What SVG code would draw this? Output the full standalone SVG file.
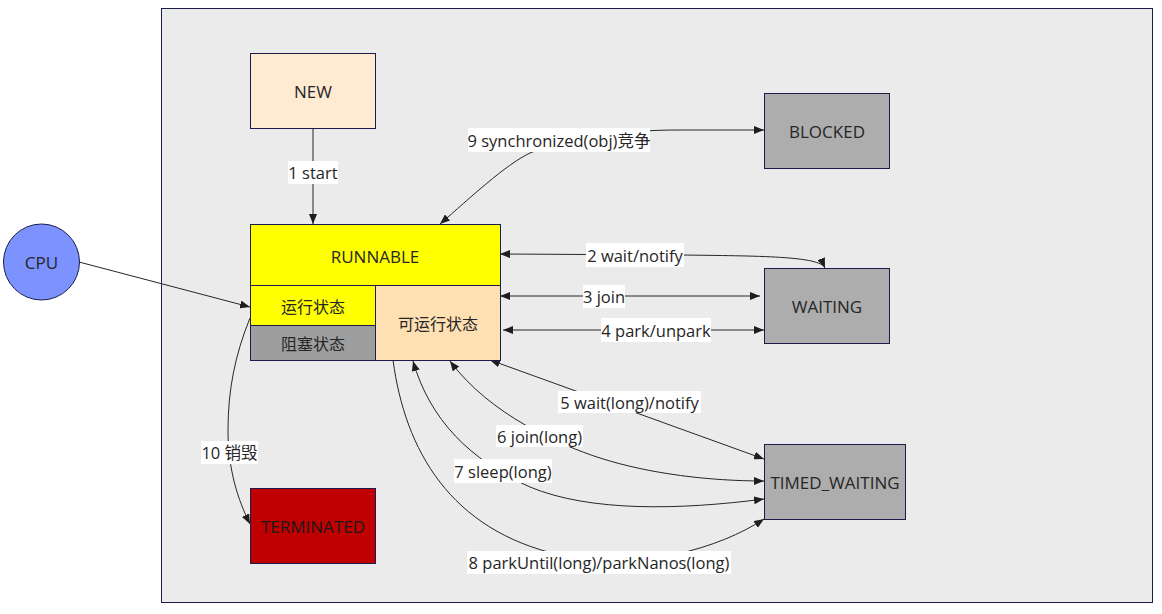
<svg xmlns="http://www.w3.org/2000/svg" width="1162" height="614" viewBox="0 0 1162 614">
<defs>
<marker id="arr" viewBox="0 0 10 8" refX="10" refY="4" markerWidth="10" markerHeight="8" markerUnits="userSpaceOnUse" orient="auto-start-reverse">
<path d="M0,0 L10,4 L0,8 z" fill="#1e1e1e"/>
</marker>
<style>
.node{stroke:#1a1d4a;stroke-width:1}
.t{font-family:"Open Sans","Noto Sans CJK SC",sans-serif;font-size:16.5px;fill:#262626;text-anchor:middle;dominant-baseline:central}
.n{font-size:17px}
.c{font-size:16px}
.e{fill:none;stroke:#262626;stroke-width:1}
.lb{fill:#ffffff}
</style>
</defs>
<rect x="0" y="0" width="1162" height="614" fill="#ffffff"/>
<g id="container">
<rect x="161.5" y="8.5" width="991" height="594" fill="#ebebeb" class="node"/>
</g>
<g id="connectors">
<path class="e" d="M313,128 L313,224" marker-end="url(#arr)"/>
<path class="e" d="M79,262 L250,307" marker-end="url(#arr)"/>
<path class="e" d="M250,318 C235,355 228,390 228,430 C228,470 238,500 250,524" marker-end="url(#arr)"/>
<path class="e" d="M440,224 C470,198 505,165 530,153 C565,138 620,130 680,130 L764,130" marker-start="url(#arr)" marker-end="url(#arr)"/>
<path class="e" d="M500,254 L680,255 C760,256 820,256 825,268" marker-start="url(#arr)" marker-end="url(#arr)"/>
<path class="e" d="M500,296 L760,296" marker-start="url(#arr)" marker-end="url(#arr)"/>
<path class="e" d="M503,330 L764,330" marker-start="url(#arr)" marker-end="url(#arr)"/>
<path class="e" d="M490,360 L764,459" marker-start="url(#arr)" marker-end="url(#arr)"/>
<path class="e" d="M450,361 C490,415 560,445 600,458 C650,474 710,481 764,481" marker-start="url(#arr)" marker-end="url(#arr)"/>
<path class="e" d="M413,361 C430,420 470,460 530,487 C590,512 680,510 764,499" marker-start="url(#arr)" marker-end="url(#arr)"/>
<path class="e" d="M393,360 C405,450 450,530 560,555 C640,572 720,548 764,519" marker-end="url(#arr)"/>
<g id="labels">
<rect class="lb" x="288" y="161" width="50" height="23"/>
<text class="t" x="313" y="172.5">1 start</text>
<rect class="lb" x="468" y="128" width="182" height="24"/>
<text class="t" x="559" y="140">9 synchronized(obj)竞争</text>
<rect class="lb" x="586" y="243" width="98" height="24"/>
<text class="t" x="635" y="255">2 wait/notify</text>
<rect class="lb" x="583" y="285" width="42" height="23"/>
<text class="t" x="604" y="296.5">3 join</text>
<rect class="lb" x="601" y="318" width="110" height="24"/>
<text class="t" x="656" y="330">4 park/unpark</text>
<rect class="lb" x="558" y="391" width="143" height="22"/>
<text class="t" x="629.5" y="402">5 wait(long)/notify</text>
<rect class="lb" x="496" y="425" width="87" height="22"/>
<text class="t" x="539.5" y="436">6 join(long)</text>
<rect class="lb" x="454" y="459" width="98" height="24"/>
<text class="t" x="503" y="471">7 sleep(long)</text>
<rect class="lb" x="467" y="551" width="264" height="23"/>
<text class="t" x="599" y="562.5">8 parkUntil(long)/parkNanos(long)</text>
<rect class="lb" x="201" y="441" width="57" height="23"/>
<text class="t" x="229.5" y="452.5">10 销毁</text>
</g>
</g>
<g id="NEW">
<rect class="node" x="250.5" y="53.5" width="125" height="75" fill="#ffebd2"/>
<text class="t n" x="313" y="91">NEW</text>
</g>
<g id="BLOCKED">
<rect class="node" x="764.5" y="93.5" width="125" height="75" fill="#adadad"/>
<text class="t n" x="827" y="131">BLOCKED</text>
</g>
<g id="WAITING">
<rect class="node" x="764.5" y="268.5" width="125" height="75" fill="#adadad"/>
<text class="t n" x="827" y="306">WAITING</text>
</g>
<g id="TIMED_WAITING">
<rect class="node" x="764.5" y="444.5" width="141" height="75" fill="#adadad"/>
<text class="t n" x="835" y="482">TIMED_WAITING</text>
</g>
<g id="TERMINATED">
<rect class="node" x="250.5" y="488.5" width="125" height="75" fill="#c00000"/>
<text class="t n" x="313" y="526" style="fill:#1a1a1a">TERMINATED</text>
</g>
<g id="CPU">
<circle class="node" cx="41.5" cy="262" r="38" fill="#7b92ff"/>
<text class="t n" x="41.5" y="262">CPU</text>
</g>
<g id="RUNNABLE">
<rect class="node" x="250.5" y="224.5" width="250" height="61" fill="#ffff00"/>
<text class="t n" x="375" y="256">RUNNABLE</text>
</g>
<g id="running">
<rect class="node" x="250.5" y="285.5" width="125" height="40" fill="#ffff00"/>
<text class="t c" x="313" y="307">运行状态</text>
</g>
<g id="blocked-sub">
<rect class="node" x="250.5" y="325.5" width="125" height="35" fill="#9e9e9e"/>
<text class="t c" x="313" y="344">阻塞状态</text>
</g>
<g id="runnable-sub">
<rect class="node" x="375.5" y="285.5" width="125" height="75" fill="#ffe0b3"/>
<text class="t c" x="438" y="324">可运行状态</text>
</g>
</svg>
